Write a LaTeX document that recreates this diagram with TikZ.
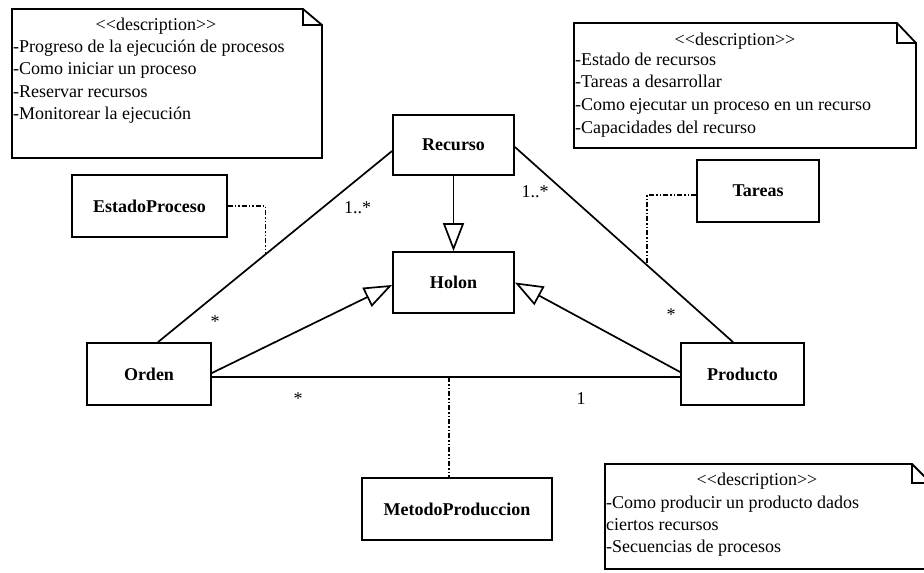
\documentclass[tikz,border=0pt]{standalone}
\usepackage{fontspec}
\setmainfont{Liberation Serif}
\usetikzlibrary{arrows.meta,calc}
\begin{document}
\begin{tikzpicture}[x=1pt,y=-1pt,
  every node/.style={font=\fontsize{18}{22}\selectfont},
  classbox/.style={draw,line width=1.8pt,rectangle,inner sep=0pt,
    font=\fontsize{18}{22}\selectfont\bfseries},
  assoc/.style={line width=1.7pt},
  gen/.style={line width=1.7pt,
    -{Triangle[open,length=28pt,width=21pt,line width=1.7pt]}},
  anchorline/.style={line width=1.6pt,
    dash pattern=on 5pt off 2pt on 1.5pt off 2pt on 1.5pt off 2pt},
  notebody/.style={draw,line width=1.8pt,fill=white,line join=miter},
  notetext/.style={anchor=base west,inner sep=0pt},
  notetitle/.style={anchor=base,inner sep=0pt},
  mult/.style={anchor=base,inner sep=0pt}]

\useasboundingbox (0,0) rectangle (924,573);

% ---- notes ----
\draw[notebody] (12,9) -- (303,9) -- (322,25) -- (322,158) -- (12,158) -- cycle;
\draw[notebody,fill=none] (303,9) -- (303,25) -- (322,25);
\node[notetitle] (n1t) at (156,30) {<{}<description>{}>};
\node[notetext] (n1a) at (13,52) {-Progreso de la ejecución de procesos};
\node[notetext] (n1b) at (13,74) {-Como iniciar un proceso};
\node[notetext] (n1c) at (13,97) {-Reservar recursos};
\node[notetext] (n1d) at (13,119) {-Monitorear la ejecución};

\draw[notebody] (574,23) -- (897,23) -- (916,43) -- (916,148) -- (574,148) -- cycle;
\draw[notebody,fill=none] (897,23) -- (897,43) -- (916,43);
\node[notetitle] (n2t) at (735,45) {<{}<description>{}>};
\node[notetext] (n2a) at (575,65) {-Estado de recursos};
\node[notetext] (n2b) at (575,87) {-Tareas a desarrollar};
\node[notetext] (n2c) at (575,110) {-Como ejecutar un proceso en un recurso};
\node[notetext] (n2d) at (575,133) {-Capacidades del recurso};

\draw[notebody] (605,464) -- (912,464) -- (931,483) -- (931,569) -- (605,569) -- cycle;
\draw[notebody,fill=none] (912,464) -- (912,483) -- (931,483);
\node[notetitle] (n3t) at (757,485) {<{}<description>{}>};
\node[notetext] (n3a) at (606,508) {-Como producir un producto dados};
\node[notetext] (n3b) at (606,530) {ciertos recursos};
\node[notetext] (n3c) at (606,552) {-Secuencias de procesos};

% ---- classes ----
\node[classbox,minimum width=121pt,minimum height=60pt] (recurso) at (453.5,145) {Recurso};
\node[classbox,minimum width=121pt,minimum height=61pt] (holon) at (453.5,282.5) {Holon};
\node[classbox,minimum width=155pt,minimum height=62pt] (estado) at (149.5,206) {EstadoProceso};
\node[classbox,minimum width=122pt,minimum height=62pt] (tareas) at (758,191) {Tareas};
\node[classbox,minimum width=124pt,minimum height=62pt] (orden) at (149,374) {Orden};
\node[classbox,minimum width=123pt,minimum height=62pt] (producto) at (742.5,374) {Producto};
\node[classbox,minimum width=190pt,minimum height=62pt] (metodo) at (457,509) {MetodoProduccion};

% ---- associations ----
\coordinate (oTop) at ([xshift=9pt]orden.north);
\coordinate (rLeft) at ([yshift=-6pt]recurso.west);
\draw[assoc] (oTop) -- (rLeft);
\coordinate (rRight) at ([yshift=-2pt]recurso.east);
\coordinate (pTop) at ([xshift=-9.5pt]producto.north);
\draw[assoc] (rRight) -- (pTop);
\coordinate (oRight) at ([yshift=-3pt]orden.east);
\coordinate (pLeft) at ([yshift=-3pt]producto.west);
\draw[assoc] (oRight) -- (pLeft);

% ---- generalizations ----
\draw[gen] (recurso.south) -- (holon.north);
\draw[gen] ([yshift=1pt]orden.east) -- ([yshift=-2.5pt]holon.west);
\draw[gen] ([yshift=2pt]producto.west) -- (holon.east);

% ---- association classes ----
\coordinate (epFoot) at ($(oTop)!0.46!(rLeft)$);
\draw[anchorline] (estado.east) -| (epFoot);
\coordinate (taFoot) at ($(rRight)!0.607!(pTop)$);
\draw[anchorline] ([yshift=-4pt]tareas.west) -| (taFoot);
\coordinate (mpFoot) at ($(oRight)!0.506!(pLeft)$);
\draw[anchorline] (mpFoot) -- (mpFoot |- metodo.north);

% ---- multiplicities ----
\node[mult] (m1) at (357.5,213) {1..*};
\node[mult] (m2) at (215,327) {*};
\node[mult] (m3) at (535,197) {1..*};
\node[mult] (m4) at (671,320) {*};
\node[mult] (m5) at (298,404) {*};
\node[mult] (m6) at (581,404) {1};
\end{tikzpicture}
\end{document}
